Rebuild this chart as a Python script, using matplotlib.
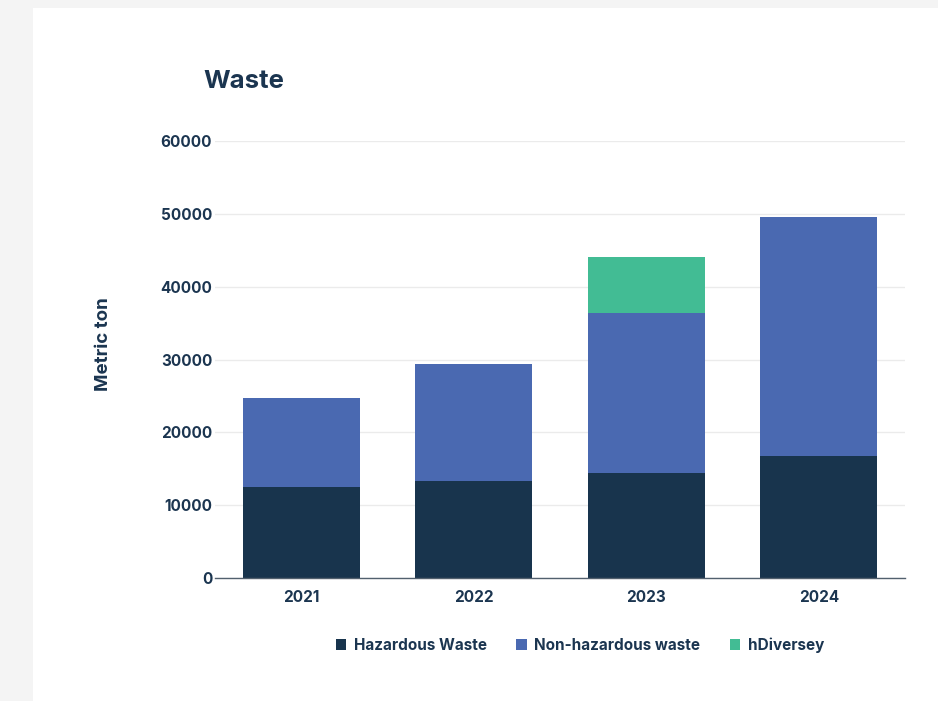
import numpy as np
import matplotlib
matplotlib.use("Agg")
import matplotlib.pyplot as plt
from matplotlib.patches import Rectangle

plt.rcParams['font.family'] = ['Inter', 'DejaVu Sans']

years = ["2021", "2022", "2023", "2024"]
hazardous = [12500, 13300, 14400, 16750]
non_hazardous = [12200, 16100, 22000, 32800]
hdiversey = [0, 0, 7700, 0]

c_haz = "#18344d"
c_non = "#4a69b1"
c_hdv = "#42bc94"
txt = "#1b3550"

fig = plt.figure(figsize=(9.38, 7.01), dpi=100, facecolor="#f4f4f4")
# white card behind everything
fig.patches.append(Rectangle((33 / 938, 0), 1 - 33 / 938, 1 - 8 / 701,
                             transform=fig.transFigure, facecolor="white",
                             edgecolor="none", zorder=-5))

ax = fig.add_axes([215 / 938, 1 - 578 / 701, 690 / 938, (578 - 141) / 701])
ax.set_facecolor("none")

x = np.arange(len(years))
w = 0.68
haz = np.array(hazardous)
non = np.array(non_hazardous)
hdv = np.array(hdiversey)
ax.bar(x, haz, w, color=c_haz, label="Hazardous Waste", zorder=3)
ax.bar(x, non, w, bottom=haz, color=c_non, label="Non-hazardous waste", zorder=3)
ax.bar(x, hdv, w, bottom=haz + non, color=c_hdv, label="hDiversey", zorder=3)

ax.set_xlim(-0.5, 3.5)
ax.set_ylim(0, 60000)
ax.set_yticks(np.arange(0, 60001, 10000))
ax.set_xticks(x)
ax.set_xticklabels(years)
ax.grid(axis="y", color="#ebebeb", linewidth=1, zorder=0)
ax.tick_params(length=0, labelsize=11, colors=txt)
ax.tick_params(axis="y", pad=2)
ax.tick_params(axis="x", pad=9)
for lab in ax.get_xticklabels() + ax.get_yticklabels():
    lab.set_fontweight("bold")
for s in ["top", "right", "left"]:
    ax.spines[s].set_visible(False)
ax.spines["bottom"].set_color("#52606e")
ax.spines["bottom"].set_linewidth(1)
ax.spines["bottom"].set_zorder(4)

ax.set_ylabel("Metric ton", fontsize=13.5, fontweight="bold", color=txt)
ax.yaxis.label.set_va("center")
ax.yaxis.set_label_coords((103 - 215) / 690, (578 - 344) / 437)

fig.text(203 / 938, 1 - 81 / 701, "Waste", fontsize=18.5, fontweight="bold",
         color=txt, ha="left", va="center")

leg = fig.legend(loc="center", bbox_to_anchor=(580 / 938, 1 - 645 / 701), ncol=3,
                 frameon=False, handlelength=0.7, handleheight=0.7,
                 columnspacing=1.9, handletextpad=0.5,
                 prop={"weight": "bold", "size": 11})
for t in leg.get_texts():
    t.set_color(txt)

fig.savefig("out.png", dpi=100, facecolor=fig.get_facecolor())
